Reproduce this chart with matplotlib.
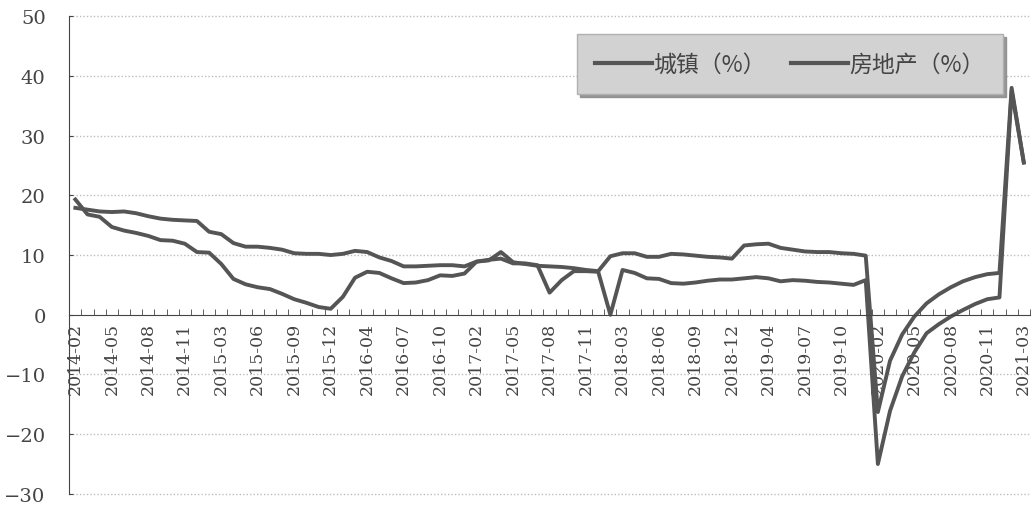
import numpy as np
import matplotlib
matplotlib.use("Agg")
from matplotlib import pyplot as plt

# ---- 数据：2014-02 至 2021-03（每年 1 月并入 2 月） ----
months = ["%d-%02d" % (y, m) for y in range(2014, 2021) for m in range(2, 13)]
months += ["2021-02", "2021-03"]

# 城镇固定资产投资累计同比（%）
urban = [
    17.9, 17.6, 17.3, 17.2, 17.3, 17.0, 16.5, 16.1, 15.9, 15.8, 15.7,   # 2014
    13.9, 13.5, 12.0, 11.4, 11.4, 11.2, 10.9, 10.3, 10.2, 10.2, 10.0,   # 2015
    10.2, 10.7, 10.5, 9.6, 9.0, 8.1, 8.1, 8.2, 8.3, 8.3, 8.1,           # 2016
    8.9, 9.2, 9.4, 8.6, 8.6, 8.3, 3.7, 5.8, 7.3, 7.3, 7.2,              # 2017
    0.0, 7.5, 7.0, 6.1, 6.0, 5.3, 5.2, 5.4, 5.7, 5.9, 5.9,              # 2018
    6.1, 6.3, 6.1, 5.6, 5.8, 5.7, 5.5, 5.4, 5.2, 5.0, 5.8,              # 2019
    -25.0, -16.1, -10.3, -6.3, -3.1, -1.6, -0.3, 0.8, 1.8, 2.6, 2.9,    # 2020
    37.5, 25.5,                                                          # 2021
]

# 房地产开发投资累计同比（%）
estate = [
    19.3, 16.8, 16.4, 14.7, 14.1, 13.7, 13.2, 12.5, 12.4, 11.9, 10.5,   # 2014
    10.4, 8.5, 6.0, 5.1, 4.6, 4.3, 3.5, 2.6, 2.0, 1.3, 1.0,             # 2015
    3.0, 6.2, 7.2, 7.0, 6.1, 5.3, 5.4, 5.8, 6.6, 6.5, 6.9,              # 2016
    8.9, 9.1, 10.5, 8.8, 8.5, 8.2, 8.1, 8.0, 7.8, 7.5, 7.3,             # 2017
    9.8, 10.3, 10.3, 9.7, 9.7, 10.2, 10.1, 9.9, 9.7, 9.6, 9.4,          # 2018
    11.6, 11.8, 11.9, 11.2, 10.9, 10.6, 10.5, 10.5, 10.3, 10.2, 9.9,    # 2019
    -16.3, -7.7, -3.3, -0.3, 1.9, 3.4, 4.6, 5.6, 6.3, 6.8, 7.0,         # 2020
    38.0, 25.5,                                                          # 2021
]

legend_labels = ["城镇（%）", "房地产（%）"]
line_color = "#555555"
text_color = "#444444"

# ---- 绘图 ----
fig = plt.figure(figsize=(10.34, 5.06), dpi=100)
ax = fig.add_axes([0.067, 0.022, 0.929, 0.944])

x = np.arange(len(months))
ax.plot(x, urban, color=line_color, lw=2.8, label=legend_labels[0], solid_joinstyle="round")
ax.plot(x, estate, color=line_color, lw=2.8, label=legend_labels[1], solid_joinstyle="round")

ax.set_xlim(-0.5, len(months) - 0.5)
ax.set_ylim(-30, 50)
ax.set_yticks(np.arange(-30, 51, 10))
for v in np.arange(-30, 51, 10):
    if v != 0:
        ax.axhline(v, color="#bdbdbd", lw=1, ls=(0, (1, 1.5)), zorder=0, clip_on=False)

# x 轴放在 0 处，刻度线在类别之间
ax.spines["top"].set_visible(False)
ax.spines["right"].set_visible(False)
ax.spines["bottom"].set_position(("data", 0))
ax.spines["bottom"].set_color(text_color)
ax.spines["left"].set_color(text_color)

ax.set_xticks(x[::3])
ax.set_xticklabels(months[::3], rotation=90, family="DejaVu Serif",
                   fontsize=12.5, color=text_color)
ax.set_xticks(np.arange(-0.5, len(months), 1), minor=True)
ax.tick_params(axis="x", which="major", length=0, pad=5)
ax.tick_params(axis="x", which="minor", direction="in", length=4, color=text_color)
ax.tick_params(axis="y", direction="in", length=3, pad=17, color=text_color)
for t in ax.get_yticklabels():
    t.set_family("DejaVu Serif")
    t.set_fontsize(14)
    t.set_color(text_color)

leg = ax.legend(loc="upper right", ncol=2, bbox_to_anchor=(0.9724, 0.962),
                frameon=True, fancybox=False,
                shadow={"color": "#8c8c8c", "alpha": 0.9},
                facecolor="#d2d2d2", edgecolor="#b0b0b0", framealpha=1,
                handlelength=2.5, handletextpad=0.05, columnspacing=1.1,
                borderpad=0.8, borderaxespad=0,
                prop={"family": ["Noto Sans CJK SC", "DejaVu Sans"], "size": 16.5})
for t in leg.get_texts():
    t.set_color(text_color)
for h in leg.get_lines():
    h.set_linewidth(3)

plt.savefig("out.png", dpi=100)
